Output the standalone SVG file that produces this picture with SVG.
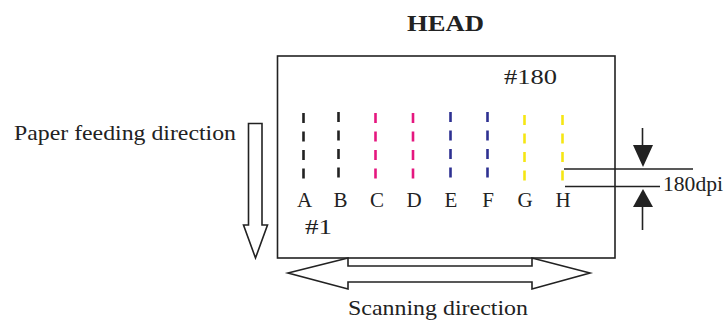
<svg xmlns="http://www.w3.org/2000/svg" width="728" height="322" viewBox="0 0 728 322">
<style>
.t{font-family:"Liberation Serif","DejaVu Serif",serif;fill:#222}
.ln{stroke:#222;stroke-width:1.6;fill:none}
.nz{stroke-width:2.6;stroke-dasharray:10 8.5;fill:none}
.k{stroke:#222}.m{stroke:#e5177f}.b{stroke:#2e3192}.y{stroke:#f5e614}
.lab{font-size:21px;text-anchor:middle}
</style>
<rect width="728" height="322" fill="#fff"/>
<text class="t" x="407" y="31" font-size="24" font-weight="bold" textLength="77" lengthAdjust="spacingAndGlyphs">HEAD</text>
<g id="head">
<rect x="277.5" y="56" width="337.5" height="202" class="ln" fill="#fff"/>
<text class="t" x="504" y="84" font-size="22" textLength="53" lengthAdjust="spacingAndGlyphs">#180</text>
<text class="t" x="305" y="234" font-size="22" textLength="27" lengthAdjust="spacingAndGlyphs">#1</text>
</g>
<g id="nozzles">
<line class="nz k" x1="303.5" y1="113" x2="303.5" y2="181"/>
<line class="nz k" x1="338.5" y1="112" x2="338.5" y2="180"/>
<line class="nz m" x1="375.5" y1="113" x2="375.5" y2="181"/>
<line class="nz m" x1="413" y1="113" x2="413" y2="181"/>
<line class="nz b" x1="450.5" y1="112" x2="450.5" y2="180"/>
<line class="nz b" x1="487.5" y1="112" x2="487.5" y2="180"/>
<line class="nz y" x1="524.5" y1="115" x2="524.5" y2="183"/>
<line class="nz y" x1="562.5" y1="115" x2="562.5" y2="183"/>
<text class="t lab" x="304.5" y="207">A</text>
<text class="t lab" x="340.5" y="207">B</text>
<text class="t lab" x="377" y="207">C</text>
<text class="t lab" x="414" y="207">D</text>
<text class="t lab" x="451" y="207">E</text>
<text class="t lab" x="488" y="207">F</text>
<text class="t lab" x="525" y="207">G</text>
<text class="t lab" x="563" y="207">H</text>
</g>
<g id="pitch">
<line class="ln" x1="564" y1="169" x2="693" y2="169"/>
<line class="ln" x1="565" y1="186.5" x2="660" y2="186.5"/>
<line class="ln" x1="642.5" y1="128" x2="642.5" y2="150"/>
<polygon points="633,145 653,145 643,167" fill="#222"/>
<line class="ln" x1="642.5" y1="205" x2="642.5" y2="230"/>
<polygon points="633,207 653,207 643,189" fill="#222"/>
<text class="t" x="663" y="191" font-size="20" textLength="60" lengthAdjust="spacingAndGlyphs">180dpi</text>
</g>
<g id="paper-feed">
<text class="t" x="14" y="140" font-size="21" textLength="222" lengthAdjust="spacingAndGlyphs">Paper feeding direction</text>
<polygon class="ln" fill="#fff" points="248.5,123.5 262,123.5 262,225 267.5,225 255.5,258 243.5,225 248.5,225"/>
</g>
<g id="scanning">
<polygon class="ln" fill="#fff" points="288,273 348,258 348,266 532,266 532,258 590,273 532,289 532,282 348,282 348,289"/>
<text class="t" x="348" y="315" font-size="22" textLength="180" lengthAdjust="spacingAndGlyphs">Scanning direction</text>
</g>
</svg>
